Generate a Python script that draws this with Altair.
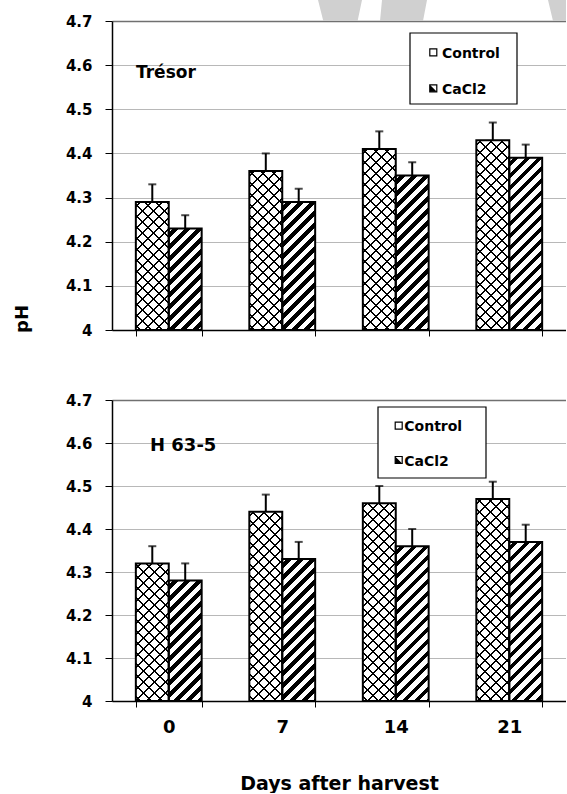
import altair as alt
import pandas as pd

# ---- data -------------------------------------------------------------
days = ["0", "7", "14", "21"]
series = ["Control", "CaCl2"]

tresor_control = [4.29, 4.36, 4.41, 4.43]
tresor_control_err = [0.04, 0.04, 0.04, 0.04]
tresor_cacl2 = [4.23, 4.29, 4.35, 4.39]
tresor_cacl2_err = [0.03, 0.03, 0.03, 0.03]

h635_control = [4.32, 4.44, 4.46, 4.47]
h635_control_err = [0.04, 0.04, 0.04, 0.04]
h635_cacl2 = [4.28, 4.33, 4.36, 4.37]
h635_cacl2_err = [0.04, 0.04, 0.04, 0.04]

y_ticks = [4.0, 4.1, 4.2, 4.3, 4.4, 4.5, 4.6, 4.7]

# ---- layout / style ---------------------------------------------------
FONT = "DejaVu Sans"
Y_MIN, Y_MAX = 4.0, 4.7
PLOT_W = 454
TOP_H = 309
BOT_H = 301
PAD_INNER = 0.42
GRID = "#707070"
step = PLOT_W / len(days)
BAR_W = step * (1 - PAD_INNER) / 2


def stripes(w, h, period, width, ink, paper, direction):
    """Linear gradient (bounding-box units) that draws 45-degree stripes on a w x h rect."""
    span = w + h
    k = span / (w * w + h * h)
    if direction == "rising":
        coords = dict(x1=0, y1=0, x2=round(k * w, 6), y2=round(k * h, 6))
    else:
        coords = dict(x1=0, y1=1, x2=round(k * w, 6), y2=round(1 - k * h, 6))
    stops = []
    a = period * 0.35
    stops.append((0.0, paper))
    stops.append((a, paper))
    while a < span:
        b = min(a + width, span)
        c = min(a + period, span)
        stops += [(a, ink), (b, ink), (b, paper), (c, paper)]
        a += period
    return {
        "gradient": "linear",
        **coords,
        "stops": [{"offset": round(o / span, 5), "color": col} for o, col in stops],
    }


def panel_frame(control, control_err, cacl2, cacl2_err):
    rows = []
    for i, d in enumerate(days):
        rows.append({"day": d, "series": series[0], "ph": control[i], "top": control[i] + control_err[i]})
        rows.append({"day": d, "series": series[1], "ph": cacl2[i], "top": cacl2[i] + cacl2_err[i]})
    return pd.DataFrame(rows)


def one_row():
    return alt.Chart(pd.DataFrame({"k": [0]}))


def panel(df, height, name, name_pos, legend_box, legend_items, bottom):
    clear = "rgba(255,255,255,0)"
    base_conds, over_conds = [], []
    for r in df.itertuples():
        test = f"datum.day === '{r.day}' && datum.series === '{r.series}'"
        h = (r.ph - Y_MIN) / (Y_MAX - Y_MIN) * height
        if r.series == series[0]:
            base_conds.append({"test": test, "value": stripes(BAR_W, h, 11, 2.0, "black", "white", "falling")})
            over_conds.append({"test": test, "value": stripes(BAR_W, h, 11, 2.0, "black", clear, "rising")})
        else:
            base_conds.append({"test": test, "value": stripes(BAR_W, h, 12, 5.6, "black", "white", "rising")})

    if bottom:
        x_axis = alt.Axis(
            title="Days after harvest", labelAngle=0, labelFont=FONT, labelFontWeight="bold",
            labelFontSize=18, labelColor="black", labelPadding=11, tickSize=6, tickBand="extent",
            tickColor="black", domainColor="black", domainWidth=1.5, titleFont=FONT,
            titleFontSize=19, titleFontWeight="bold", titleColor="black", titleY=88,
            titleBaseline="alphabetic", grid=False,
        )
    else:
        x_axis = alt.Axis(
            title=None, labels=False, tickSize=6, tickBand="extent", tickColor="black",
            domainColor="black", domainWidth=1.5, grid=False,
        )
    x = alt.X("day:N", sort=days, axis=x_axis,
              scale=alt.Scale(paddingInner=PAD_INNER, paddingOuter=PAD_INNER / 2))
    xo = alt.XOffset("series:N", sort=series, scale=alt.Scale(paddingInner=0, paddingOuter=0))
    y_axis = alt.Axis(
        values=y_ticks, format="~g", title=None, labelFont=FONT, labelFontWeight="bold",
        labelFontSize=15, labelColor="black", labelPadding=13, tickSize=7, tickColor="black",
        domainColor="black", domainWidth=1.5, grid=True, gridColor=GRID,
        gridDash={"condition": {"test": "datum.value > 4.65", "value": [1, 0]}, "value": [1, 1]},
        gridWidth={"condition": {"test": "datum.value > 4.65", "value": 1.6}, "value": 1},
    )
    yscale = alt.Scale(domain=[Y_MIN, Y_MAX], nice=False, zero=False)

    src = alt.Chart(df)
    bars = src.mark_bar(strokeWidth=0).encode(
        x=x, xOffset=xo,
        y=alt.Y("ph:Q", scale=yscale, axis=y_axis), y2=alt.datum(Y_MIN),
        fill=alt.FillValue(value="white", condition=base_conds),
    )
    overlay = src.mark_bar(stroke="black", strokeWidth=2).encode(
        x=x, xOffset=xo,
        y=alt.Y("ph:Q", scale=yscale, axis=y_axis), y2=alt.datum(Y_MIN),
        fill=alt.FillValue(value=clear, condition=over_conds),
    )
    err = src.mark_rule(color="black", strokeWidth=2).encode(
        x=x, xOffset=xo,
        y=alt.Y("ph:Q", scale=yscale, axis=y_axis), y2="top:Q",
    )
    caps = src.mark_tick(color="black", thickness=2, size=8).encode(
        x=x, xOffset=xo, y=alt.Y("top:Q", scale=yscale, axis=y_axis),
    )

    bx1, by1, bx2, by2 = legend_box
    box = one_row().mark_rect(fill="white", stroke="black", strokeWidth=1.2).encode(
        x=alt.value(bx1), x2=alt.value(bx2), y=alt.value(by1), y2=alt.value(by2)
    )
    layers = [bars, overlay, err, caps, box]

    (sx, tx, ys, ybase) = legend_items
    for i, s in enumerate(series):
        layers.append(one_row().mark_square(size=49, fill="white", stroke="black",
                                            strokeWidth=1.2, opacity=1).encode(
            x=alt.value(sx), y=alt.value(ys[i])))
        if i == 1:
            layers.append(one_row().mark_point(shape="M-3.5,-3.5L-3.5,3.5L3.5,3.5Z", size=4,
                                               filled=True, color="black", strokeWidth=0,
                                               opacity=1).encode(
                x=alt.value(sx), y=alt.value(ys[i])))
        layers.append(one_row().mark_text(align="left", baseline="alphabetic", font=FONT,
                                          fontWeight="bold", fontSize=14, color="black").encode(
            x=alt.value(tx), y=alt.value(ybase[i]), text=alt.value(s)))

    nx, ny, nsize = name_pos
    layers.append(one_row().mark_text(align="left", baseline="alphabetic", font=FONT,
                                      fontWeight="bold", fontSize=nsize, color="black").encode(
        x=alt.value(nx), y=alt.value(ny), text=alt.value(name)))
    return layers


top_df = panel_frame(tresor_control, tresor_control_err, tresor_cacl2, tresor_cacl2_err)
bot_df = panel_frame(h635_control, h635_control_err, h635_cacl2, h635_cacl2_err)

top_layers = panel(top_df, TOP_H, "Trésor", (24, 57, 17), (298, 12, 405, 83),
                   (321.3, 330, [31.3, 67.3], [36.7, 72.8]), bottom=False)
bot_layers = panel(bot_df, BOT_H, "H 63-5", (38, 51, 18), (266, 7, 374, 78),
                   (286.7, 292.3, [25.7, 60], [31.2, 65.5]), bottom=True)

# light grey watermark strokes showing above the upper plot
watermark = one_row().mark_point(
    shape=("M-112,-1L-111.95,-1L-112,-0.95Z "
           "M206,-21L250,-21L245.6,0L211.3,0Z "
           "M270,-21L315,-21L311,0L268,0Z "
           "M436,-21L454,-21L454,0L441,0Z"),
    size=4, filled=True, color="#d0d0d0", strokeWidth=0, opacity=1,
).encode(x=alt.value(0), y=alt.value(0))

ph_title = one_row().mark_text(angle=270, align="center", baseline="middle", font=FONT,
                               fontWeight="bold", fontSize=18, color="black").encode(
    x=alt.value(-89.5), y=alt.value(298), text=alt.value("pH"))

top = alt.layer(watermark, *top_layers, ph_title).properties(width=PLOT_W, height=TOP_H)
bottom = alt.layer(*bot_layers).properties(width=PLOT_W, height=BOT_H)

chart = alt.vconcat(top, bottom, spacing=70, bounds="flush").properties(
    padding={"left": 0, "right": 0, "top": 0, "bottom": 0},
    background="white",
).configure_view(strokeWidth=0)

chart.save("out.html", embed_options={"renderer": "svg", "actions": False})
